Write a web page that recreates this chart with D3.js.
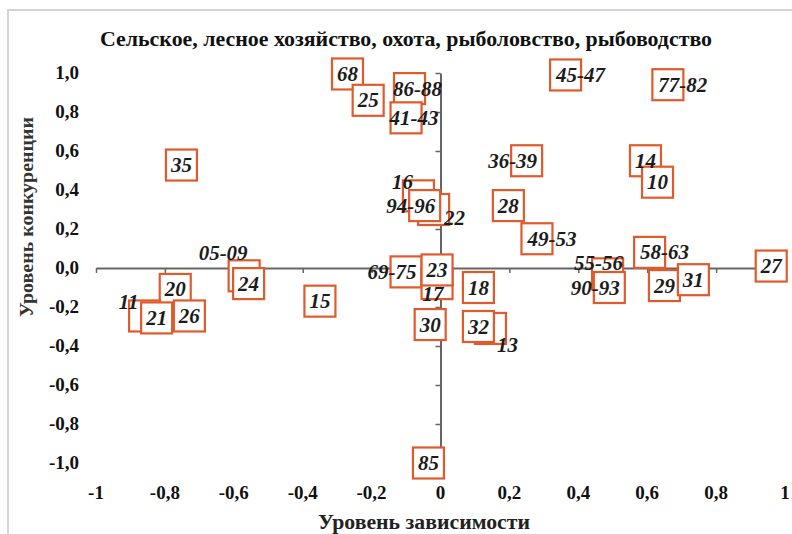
<!DOCTYPE html>
<html><head><meta charset="utf-8">
<script src="https://cdn.jsdelivr.net/npm/d3@7/dist/d3.min.js"></script>
<style>body{margin:0;background:#fff}svg{display:block}</style>
</head><body>
<svg id="c" width="792" height="534"></svg>
<script>
const title = "Сельское, лесное хозяйство, охота, рыболовство, рыбоводство";
const xTitle = "Уровень зависимости";
const yTitle = "Уровень конкуренции";
const labels = ["68","25","86-88","41-43","35","16","22","94-96","05-09","24","20","11","21","26","15","69-75","17","23","18","30","13","32","85","45-47","77-82","36-39","28","49-53","14","10","55-56","90-93","58-63","29","31","27"];
const xVals = [-0.27,-0.21,-0.09,-0.10,-0.752,-0.064,-0.02,-0.046,-0.57,-0.557,-0.77,-0.859,-0.824,-0.729,-0.35,-0.10,-0.01,-0.01,0.11,-0.03,0.145,0.11,-0.035,0.363,0.66,0.25,0.197,0.28,0.595,0.63,0.485,0.49,0.607,0.65,0.734,0.96];
const yVals = [0.995,0.86,0.92,0.77,0.528,0.37,0.30,0.32,-0.04,-0.08,-0.11,-0.246,-0.256,-0.246,-0.17,-0.02,-0.08,-0.01,-0.10,-0.29,-0.31,-0.30,-1.0,0.99,0.94,0.55,0.32,0.15,0.55,0.44,-0.03,-0.10,0.08,-0.09,-0.06,0.01];
const labelPos = ["c","c","rs","rs","c","ul","dr","l","ul2","c","c","ul","c","c","c","l","d","c","c","c","dr2","c","c","r","r","l","c","r","c","c","ul3","l","r","c","c","c"];
const xTicks = [-1,-0.8,-0.6,-0.4,-0.2,0,0.2,0.4,0.6,0.8,1];
const xTickLabels = ["-1","-0,8","-0,6","-0,4","-0,2","0","0,2","0,4","0,6","0,8","1"];
const yTicks = [1,0.8,0.6,0.4,0.2,0,-0.2,-0.4,-0.6,-0.8,-1];
const yTickLabels = ["1,0","0,8","0,6","0,4","0,2","0,0","-0,2","-0,4","-0,6","-0,8","-1,0"];

const posOffset = {c:[0,0],r:[15,0],rs:[8,0],l:[-14,0],ul:[-16,-14],ul2:[-21,-23],ul3:[-9,-11],dr:[21,8],dr2:[17,17],d:[-4,10]};
const points = labels.map((l,i)=>({label:l,x:xVals[i],y:yVals[i],pos:labelPos[i]}));

const svg = d3.select("#c");
const x = d3.scaleLinear().domain([-1,1]).range([96,785]);
const y = d3.scaleLinear().domain([-1,1]).range([463,73]);
const serif = "'Liberation Serif','Times New Roman',serif";

svg.append("rect").attr("x",8).attr("y",10).attr("width",800).attr("height",540)
  .attr("fill","#fff").attr("stroke","#d4d4d4").attr("stroke-width",2);

svg.append("text").attr("x",406).attr("y",46).attr("text-anchor","middle")
  .attr("font-family",serif).attr("font-weight","bold").attr("font-size",20)
  .attr("textLength",612).attr("lengthAdjust","spacingAndGlyphs")
  .attr("fill","#111").text(title);

// axes through origin
const gx = svg.append("g").attr("transform",`translate(0,${y(0)})`)
  .call(d3.axisBottom(x).tickValues(xTicks).tickSize(5).tickSizeOuter(0).tickFormat(""));
const gy = svg.append("g").attr("transform",`translate(${x(0)},0)`)
  .call(d3.axisLeft(y).tickValues(yTicks).tickSize(5).tickSizeOuter(0).tickFormat(""));
[gx,gy].forEach(g=>{
  g.select(".domain").attr("stroke","#666").attr("stroke-width",2);
  g.selectAll(".tick line").attr("stroke","#666").attr("stroke-width",1.5);
});

// tick labels
svg.append("g").selectAll("text").data(xTicks).join("text")
  .attr("x",d=>x(d)).attr("y",499).attr("text-anchor","middle")
  .attr("font-family",serif).attr("font-weight","bold").attr("font-size",19).attr("fill","#111")
  .text((d,i)=>xTickLabels[i]);
svg.append("g").selectAll("text").data(yTicks).join("text")
  .attr("x",79).attr("y",d=>y(d)+6).attr("text-anchor","end")
  .attr("font-family",serif).attr("font-weight","bold").attr("font-size",19).attr("fill","#111")
  .text((d,i)=>yTickLabels[i]);

// axis titles
svg.append("text").attr("x",424).attr("y",529).attr("text-anchor","middle")
  .attr("font-family",serif).attr("font-weight","bold").attr("font-size",20).attr("fill","#222")
  .attr("textLength",212).attr("lengthAdjust","spacingAndGlyphs")
  .text(xTitle);
svg.append("text").attr("transform","translate(33,217) rotate(-90)").attr("text-anchor","middle")
  .attr("font-family",serif).attr("font-weight","bold").attr("font-size",18).attr("fill","#333")
  .attr("textLength",200).attr("lengthAdjust","spacingAndGlyphs")
  .text(yTitle);

// markers
const S = 31;
svg.append("g").selectAll("rect").data(points).join("rect")
  .attr("x",d=>x(d.x)-S/2).attr("y",d=>y(d.y)-S/2).attr("width",S).attr("height",S)
  .attr("fill","#fff").attr("stroke","#e05a2b").attr("stroke-width",2.2);

// labels
svg.append("g").selectAll("text").data(points).join("text")
  .attr("x",d=>x(d.x)+posOffset[d.pos][0]).attr("y",d=>y(d.y)+posOffset[d.pos][1]+7)
  .attr("text-anchor","middle")
  .attr("font-family",serif).attr("font-weight","bold").attr("font-style","italic")
  .attr("font-size",21).attr("fill","#1c1c1c")
  .text(d=>d.label);
</script>
</body></html>
